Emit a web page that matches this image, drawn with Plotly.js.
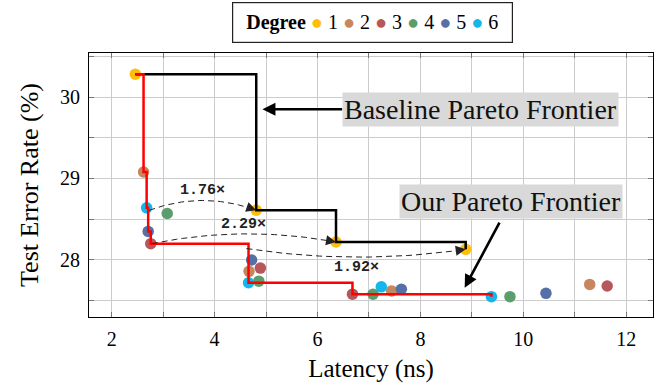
<!DOCTYPE html>
<html><head><meta charset="utf-8">
<script src="https://cdn.plot.ly/plotly-3.0.1.min.js"></script>
<style>html,body{margin:0;padding:0;background:#fff}</style>
</head><body><div id="chart" style="width:662px;height:387px"></div>
<script>
// ---- data ----
const degreeNames = ['1', '2', '3', '4', '5', '6'];
const latency1 = [2.46, 4.81, 6.36, 8.88];
const error1   = [30.28, 28.61, 28.22, 28.13];
const latency2 = [2.62, 4.67, 7.44, 11.29];
const error2   = [29.08, 27.86, 27.62, 27.70];
const latency3 = [2.76, 4.89, 6.68, 11.63];
const error3   = [28.20, 27.90, 27.58, 27.68];
const latency4 = [3.08, 4.86, 7.08, 9.74];
const error4   = [28.57, 27.74, 27.58, 27.55];
const latency5 = [2.71, 4.72, 7.63, 10.44];
const error5   = [28.35, 28.00, 27.64, 27.59];
const latency6 = [2.68, 4.66, 7.24, 9.38];
const error6   = [28.64, 27.72, 27.67, 27.55];

// speed-up comparisons: our frontier latency -> baseline point (degree 1)
const speedupLabels      = ['1.76×', '2.29×', '1.92×'];
const speedupFromLatency = [2.73, 2.78, 4.62];
const speedupFromError   = [28.61, 28.20, 28.14];
const speedupBaselineIdx = [1, 2, 3];

// ---- styles ----
const colors = ['#FFBE0A', '#C8865F', '#B5575B', '#5B9D6C', '#5570A6', '#14B6EB'];
const arcBend = [0.12, 0.11, -0.10];     // bulge of each dashed arc (y units)
const arcLabelShift = [10, 9, -10];      // px offset of arc labels
const serif = 'Liberation Serif';

const lats = [latency1, latency2, latency3, latency4, latency5, latency6];
const errs = [error1, error2, error3, error4, error5, error6];

function pareto(xs, ys) {
  const idx = xs.map((_, i) => i).sort((a, b) => xs[a] - xs[b]);
  const px = [], py = [];
  let best = Infinity;
  idx.forEach(i => { if (ys[i] < best - 1e-9) { best = ys[i]; px.push(xs[i]); py.push(ys[i]); } });
  return {x: px, y: py};
}

const traces = [];
degreeNames.forEach((name, k) => {
  traces.push({
    type: 'scatter', mode: 'markers', name: name,
    x: lats[k], y: errs[k],
    marker: {color: colors[k], size: 11.5, line: {width: 0}},
    showlegend: false, hoverinfo: 'skip'
  });
});

const baseline = pareto(latency1, error1);
traces.push({type: 'scatter', mode: 'lines', x: baseline.x, y: baseline.y,
  line: {color: '#000', width: 2.5, shape: 'hv'}, showlegend: false, hoverinfo: 'skip'});

const allX = [].concat(...lats), allY = [].concat(...errs);
const ours = pareto(allX, allY);
traces.push({type: 'scatter', mode: 'lines', x: ours.x, y: ours.y,
  line: {color: '#FF0000', width: 2.5, shape: 'hv'}, showlegend: false, hoverinfo: 'skip'});

function bez(p0, c, p2, t) {
  return [(1 - t) * (1 - t) * p0[0] + 2 * t * (1 - t) * c[0] + t * t * p2[0],
          (1 - t) * (1 - t) * p0[1] + 2 * t * (1 - t) * c[1] + t * t * p2[1]];
}

const annotations = [];
speedupLabels.forEach((lab, i) => {
  const p0 = [speedupFromLatency[i], speedupFromError[i]];
  const j = speedupBaselineIdx[i];
  const p2 = [latency1[j], error1[j]];
  const c = [(p0[0] + p2[0]) / 2, (p0[1] + p2[1]) / 2 + 2 * arcBend[i]];
  const xs = [], ys = [];
  for (let s = 0; s <= 30; s++) { const q = bez(p0, c, p2, s / 30); xs.push(q[0]); ys.push(q[1]); }
  traces.push({type: 'scatter', mode: 'lines', x: xs, y: ys,
    line: {color: '#222', width: 1, dash: '6px,4px'}, showlegend: false, hoverinfo: 'skip'});
  const tail = bez(p0, c, p2, 0.96);
  annotations.push({x: p2[0], y: p2[1], ax: tail[0], ay: tail[1], xref: 'x', yref: 'y', axref: 'x', ayref: 'y',
    text: '', showarrow: true, arrowhead: 2, arrowsize: 2, arrowwidth: 1, arrowcolor: '#222'});
  const mid = bez(p0, c, p2, 0.5);
  annotations.push({x: mid[0], y: mid[1], xref: 'x', yref: 'y', text: '<b>' + lab + '</b>', showarrow: false,
    yshift: arcLabelShift[i], font: {family: 'Liberation Mono', size: 15, color: '#222'}});
});

annotations.push({x: 4.93, y: 29.85, ax: 9.16, ay: 29.85, xref: 'x', yref: 'y', axref: 'x', ayref: 'y',
  text: 'Baseline Pareto Frontier', showarrow: true, arrowhead: 2, arrowsize: 1, arrowwidth: 2.6, arrowcolor: '#000',
  bgcolor: '#d9d9d9', borderpad: 1, font: {family: serif, size: 28, color: '#111'}});
annotations.push({x: 8.86, y: 27.66, ax: 9.76, ay: 28.72, xref: 'x', yref: 'y', axref: 'x', ayref: 'y',
  text: 'Our Pareto Frontier', showarrow: true, arrowhead: 2, arrowsize: 1, arrowwidth: 2.6, arrowcolor: '#000',
  startstandoff: 5, bgcolor: '#d9d9d9', borderpad: 1, font: {family: serif, size: 28, color: '#111'}});

// legend (built from the degree names and colours)
const legendText = '\u00a0<b>Degree</b>' + degreeNames.map((n, k) =>
  ' <span style="color:' + colors[k] + '">●</span> ' + n).join('') + '\u00a0';
annotations.push({xref: 'paper', yref: 'paper', x: 0.502, y: 1.193, xanchor: 'center', yanchor: 'top',
  text: legendText, showarrow: false, bordercolor: '#222', borderwidth: 1.2, borderpad: 8, bgcolor: '#fff',
  font: {family: serif, size: 20, color: '#000'}});

const axisCommon = {
  ticks: 'inside', ticklen: 5, tickcolor: '#777', tickwidth: 1,
  showgrid: true, gridcolor: '#cccccc', gridwidth: 1,
  showline: true, linecolor: '#000', linewidth: 1, mirror: 'allticks', zeroline: false,
  tickfont: {family: serif, size: 20, color: '#000'}, ticklabelstandoff: 4
};

const layout = {
  width: 662, height: 387,
  margin: {l: 89, r: 9, t: 53, b: 70},
  paper_bgcolor: '#fff', plot_bgcolor: '#fff',
  showlegend: false,
  xaxis: Object.assign({}, axisCommon, {
    range: [1.56, 12.52], dtick: 2, tick0: 0,
    minor: {dtick: 1, ticks: 'inside', ticklen: 5, tickcolor: '#777', showgrid: true, gridcolor: '#cccccc', gridwidth: 1},
    title: {text: 'Latency (ns)', font: {family: serif, size: 25, color: '#000'}, standoff: 10}
  }),
  yaxis: Object.assign({}, axisCommon, {
    range: [27.30, 30.54], dtick: 1, tick0: 0,
    minor: {dtick: 0.5, ticks: 'inside', ticklen: 5, tickcolor: '#777', showgrid: true, gridcolor: '#cccccc', gridwidth: 1},
    title: {text: 'Test Error Rate (%)', font: {family: serif, size: 26, color: '#000'}, standoff: 13}
  }),
  annotations: annotations
};

Plotly.newPlot('chart', traces, layout, {staticPlot: true, displayModeBar: false});
</script>
</body></html>
